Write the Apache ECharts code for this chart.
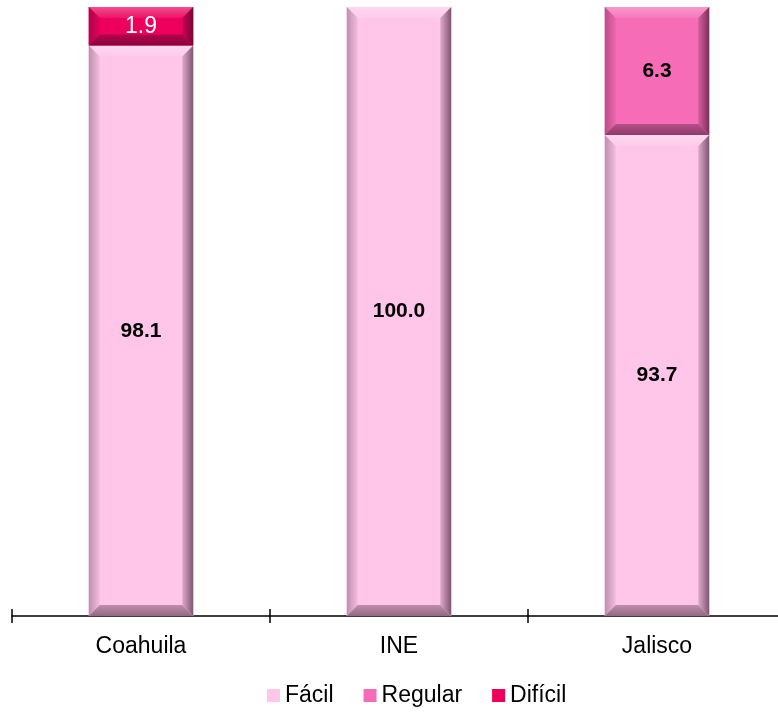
<!DOCTYPE html>
<html>
<head>
<meta charset="utf-8">
<script src="https://cdn.jsdelivr.net/npm/echarts@6/dist/echarts.min.js"></script>
<style>
html,body{margin:0;padding:0;background:#fff;}
#chart{width:778px;height:713px;}
</style>
</head>
<body>
<div id="chart"></div>
<script>
// ---- data ----
var categories = ['Coahuila', 'INE', 'Jalisco'];
var seriesNames = ['Fácil', 'Regular', 'Difícil'];
var facil   = [98.1, 100.0, 93.7];
var regular = [0, 0, 6.3];
var dificil = [1.9, 0, 0];

// ---- styles ----
var Y_MIN = 70, Y_MAX = 100;
var baseColors = ['#FFC6EA', '#F66CB6', '#EC005C'];
var labelStyles = [
  {fill: '#000', font: 'bold 21px "Liberation Sans", Arial, sans-serif'},
  {fill: '#000', font: 'bold 21px "Liberation Sans", Arial, sans-serif'},
  {fill: '#fff', font: '23px "Liberation Sans", Arial, sans-serif'}
];

function hexToRgb(h){h=h.replace('#','');return [parseInt(h.substr(0,2),16),parseInt(h.substr(2,2),16),parseInt(h.substr(4,2),16)];}
function mix(hex, target, t){var a=hexToRgb(hex);var b=target;return 'rgb('+a.map(function(v,i){return Math.round(v+(b[i]-v)*t);}).join(',')+')';}
function dark(hex,t){return mix(hex,[40,10,30],t);}
function light(hex,t){return mix(hex,[255,255,255],t);}

var allValues = [facil, regular, dificil];

function buildData(si){
  var out = [];
  for (var c = 0; c < categories.length; c++){
    var base = 0;
    for (var k = 0; k < si; k++) base += allValues[k][c];
    var v = allValues[si][c];
    if (v > 0) out.push([c, base, base + v, v]);
  }
  return out;
}

function makeRender(si){
  var col = baseColors[si];
  return function(params, api){
    var cat = api.value(0);
    var lo = Math.max(api.value(1), Y_MIN);
    var hi = Math.min(api.value(2), Y_MAX);
    var v = api.value(3);
    var pBot = api.coord([cat, lo]);
    var pTop = api.coord([cat, hi]);
    var w = api.size([1, 0])[0] * 0.405;
    var x0 = pBot[0] - w / 2, x1 = pBot[0] + w / 2;
    var y0 = pTop[1], y1 = pBot[1];
    var h = y1 - y0;
    var b = Math.min(11, h / 3);
    var lin = function(x,y,x2,y2,c1,c2){return {type:'linear',x:x,y:y,x2:x2,y2:y2,colorStops:[{offset:0,color:c1},{offset:1,color:c2}]};};
    var children = [
      {type:'rect', shape:{x:x0,y:y0,width:w,height:h}, style:{fill:col}},
      {type:'polygon', shape:{points:[[x0,y0],[x1,y0],[x1-b,y0+b],[x0+b,y0+b]]}, style:{fill:lin(0,0,0,1,light(col,0.3),light(col,0.08))}},
      {type:'polygon', shape:{points:[[x0,y0],[x0+b,y0+b],[x0+b,y1-b],[x0,y1]]}, style:{fill:lin(0,0,1,0,dark(col,0.3),dark(col,0.05))}},
      {type:'polygon', shape:{points:[[x1,y0],[x1,y1],[x1-b,y1-b],[x1-b,y0+b]]}, style:{fill:lin(0,0,1,0,dark(col,0.15),dark(col,0.6))}},
      {type:'polygon', shape:{points:[[x0,y1],[x0+b,y1-b],[x1-b,y1-b],[x1,y1]]}, style:{fill:lin(0,0,0,1,dark(col,0.3),dark(col,0.5))}},
      {type:'text', style:{text:v.toFixed(1), x:(x0+x1)/2, y:(y0+y1)/2, align:'center', verticalAlign:'middle', fill:labelStyles[si].fill, font:labelStyles[si].font}}
    ];
    return {type:'group', children:children};
  };
}

var series = seriesNames.map(function(name, si){
  return {
    name: name,
    type: 'custom',
    xAxisIndex: 0,
    yAxisIndex: 0,
    itemStyle: {color: baseColors[si]},
    encode: {x: 0, y: [1, 2]},
    data: buildData(si),
    renderItem: makeRender(si)
  };
});

var chart = echarts.init(document.getElementById('chart'), null, {renderer: 'canvas'});
chart.setOption({
  animation: false,
  backgroundColor: '#fff',
  grid: {left: 12, right: -8, top: 7, bottom: 97, containLabel: false, outerBoundsMode: 'none'},
  legend: {
    data: seriesNames,
    left: 262, top: 679,
    icon: 'rect', itemWidth: 13, itemHeight: 13, itemGap: 30,
    textStyle: {fontSize: 23, color: '#000', fontFamily: '"Liberation Sans", Arial, sans-serif'}
  },
  xAxis: [
    {
      type: 'category', data: categories, position: 'bottom',
      axisLine: {show: true, lineStyle: {color: '#000', width: 1.5}},
      axisTick: {show: true, length: 7, inside: false, lineStyle: {color: '#000', width: 1.5}},
      axisLabel: {fontSize: 23, color: '#000', margin: 19, fontFamily: '"Liberation Sans", Arial, sans-serif'},
      splitLine: {show: false}
    },
    {
      type: 'category', data: categories, position: 'bottom', offset: 0,
      axisLine: {show: false},
      axisTick: {show: true, length: 7, inside: true, lineStyle: {color: '#000', width: 1.5}},
      axisLabel: {show: false},
      splitLine: {show: false}
    }
  ],
  yAxis: {type: 'value', min: Y_MIN, max: Y_MAX, show: false, splitLine: {show: false}},
  series: series
});
</script>
</body>
</html>
